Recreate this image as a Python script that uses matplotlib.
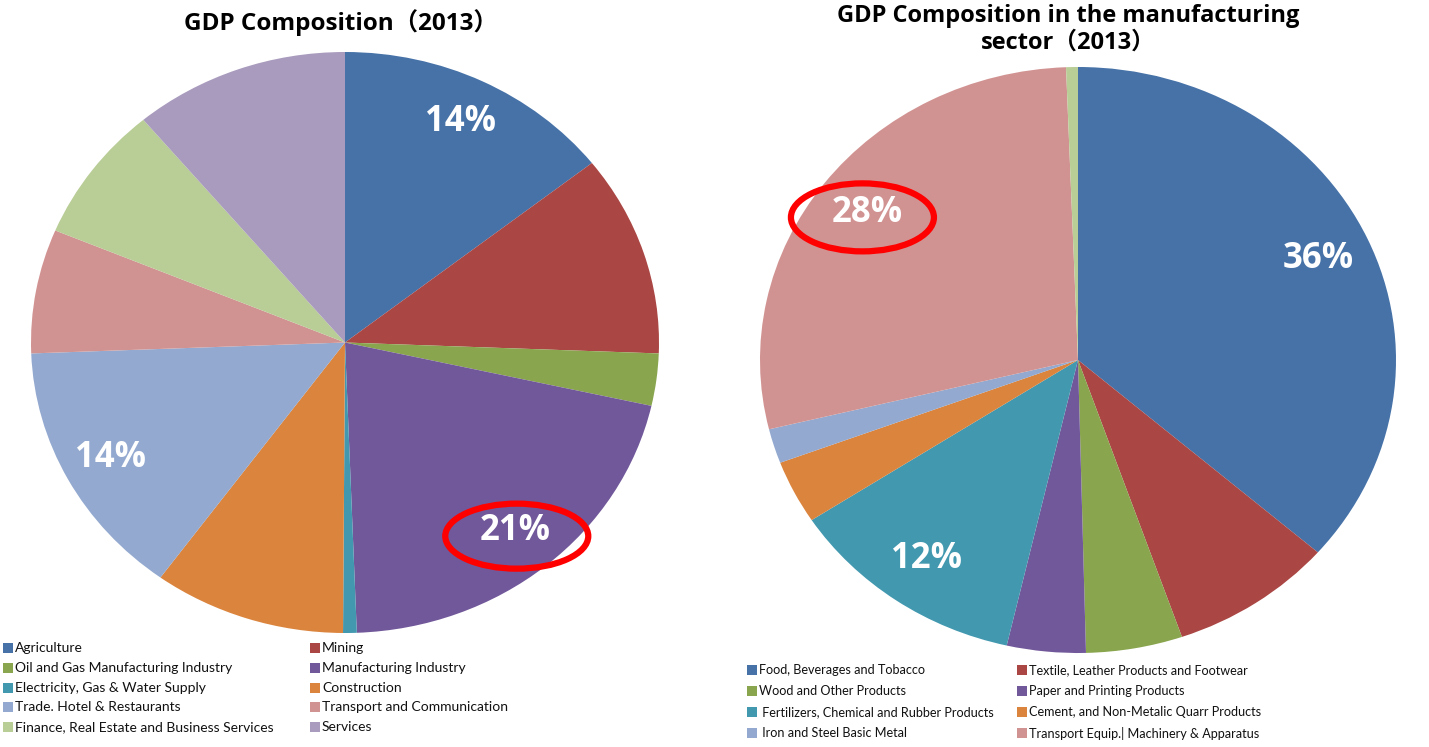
import numpy as np
import matplotlib
matplotlib.use('Agg')
import matplotlib.pyplot as plt
from matplotlib.patches import Ellipse, Rectangle

# ---------------- data ----------------
left_title = 'GDP Composition（2013）'
left_labels = ['Agriculture', 'Mining', 'Oil and Gas Manufacturing Industry',
               'Manufacturing Industry', 'Electricity, Gas & Water Supply',
               'Construction', 'Trade. Hotel & Restaurants',
               'Transport and Communication',
               'Finance, Real Estate and Business Services', 'Services']
left_values = [14.4, 11.2, 2.9, 20.9, 0.7, 9.9, 14.4, 6.9, 7.6, 11.1]
left_colors = ['#4672A8', '#AA4643', '#89A54E', '#71589A', '#4198AF',
               '#DB843D', '#93A9CF', '#D19392', '#B9CD96', '#A99BBD']
left_shown = ['Agriculture', 'Manufacturing Industry', 'Trade. Hotel & Restaurants']
left_circled = 'Manufacturing Industry'

right_title = 'GDP Composition in the manufacturing\nsector（2013）'
right_labels = ['Food, Beverages and Tobacco',
                'Textile, Leather Products and Footwear',
                'Wood and Other Products', 'Paper and Printing Products',
                ' Fertilizers, Chemical and Rubber Products',
                'Cement, and Non-Metalic Quarr Products',
                ' Iron and Steel Basic Metal',
                'Transport Equip.| Machinery & Apparatus', 'Other']
right_values = [36.4, 8.3, 4.9, 4.0, 12.2, 3.5, 1.9, 28.2, 0.6]
right_colors = ['#4672A8', '#AA4643', '#89A54E', '#71589A', '#4198AF',
                '#DB843D', '#93A9CF', '#D19392', '#B9CD96']
right_legend_count = 8
right_shown = ['Food, Beverages and Tobacco',
               ' Fertilizers, Chemical and Rubber Products',
               'Transport Equip.| Machinery & Apparatus']
right_circled = 'Transport Equip.| Machinery & Apparatus'

# ---------------- layout ----------------
W, H = 1429, 747
fig = plt.figure(figsize=(W / 100, H / 100), dpi=100)
FONT = ['Lato', 'Noto Sans CJK SC', 'DejaVu Sans']
BFONT = ['Open Sans', 'Noto Sans CJK SC', 'DejaVu Sans']


def fx(px):
    return px / W


def fy(py):
    return 1 - py / H


def make_pie(box, values, colors, labels, shown, circled, pctdist,
             ell_w, ell_h, ell_off):
    x0, y0, x1, y1 = box  # pixel box (left, top, right, bottom)
    ax = fig.add_axes([fx(x0), fy(y1), (x1 - x0) / W, (y1 - y0) / H])
    wedges, _ = ax.pie(values, colors=colors, startangle=90,
                       counterclock=False, radius=1,
                       wedgeprops=dict(linewidth=0))
    ax.set_aspect('auto')
    ax.set_xlim(-1, 1)
    ax.set_ylim(-1, 1)
    ax.axis('off')
    total = sum(values)
    rx = (x1 - x0) / 2
    ry = (y1 - y0) / 2
    for w, lab, v in zip(wedges, labels, values):
        if lab in shown:
            mid = np.deg2rad((w.theta1 + w.theta2) / 2)
            tx, ty = pctdist * np.cos(mid), pctdist * np.sin(mid)
            ax.text(tx, ty, f'{round(v / total * 100)}%', ha='center',
                    va='center', color='white', fontsize=25,
                    fontweight='bold', family=BFONT)
            if lab == circled:
                ax.add_patch(Ellipse((tx + ell_off[0] / rx, ty - ell_off[1] / ry),
                                     ell_w / rx, ell_h / ry, fill=False,
                                     edgecolor='#FF0000', linewidth=4.5))
    return wedges


def legend(wedges, labels, x_cols, y_start, dy, n, size):
    for i in range(n):
        r, c = divmod(i, 2)
        sx = x_cols[c]
        sy = y_start + r * dy
        fig.patches.append(Rectangle((fx(sx), fy(sy + 5)), 10 / W, 10 / H,
                                     transform=fig.transFigure,
                                     facecolor=wedges[i].get_facecolor(),
                                     edgecolor='none'))
        fig.text(fx(sx + 12), fy(sy), labels[i], ha='left', va='center',
                 fontsize=size, color='#111111', family=FONT)


lw = make_pie((31, 52, 659, 633), left_values, left_colors, left_labels,
              left_shown, left_circled, 0.845, 143, 65, (2, 5))
rw = make_pie((760, 67, 1396, 653), right_values, right_colors, right_labels,
              right_shown, right_circled, 0.83, 143, 68, (-5, 4))

legend(lw, left_labels, (3, 310), 648, 19.75, len(left_labels), 10)
legend(rw, right_labels, (747, 1017), 670, 21, right_legend_count, 9.1)

fig.text(fx(341), fy(23), left_title, ha='center', va='center',
         fontsize=17.5, fontweight='bold', family=BFONT)
fig.text(fx(1068), fy(29), right_title, ha='center', va='center',
         fontsize=17, fontweight='bold', family=BFONT, linespacing=1.15)

fig.savefig('out.png', dpi=100, facecolor='white')
